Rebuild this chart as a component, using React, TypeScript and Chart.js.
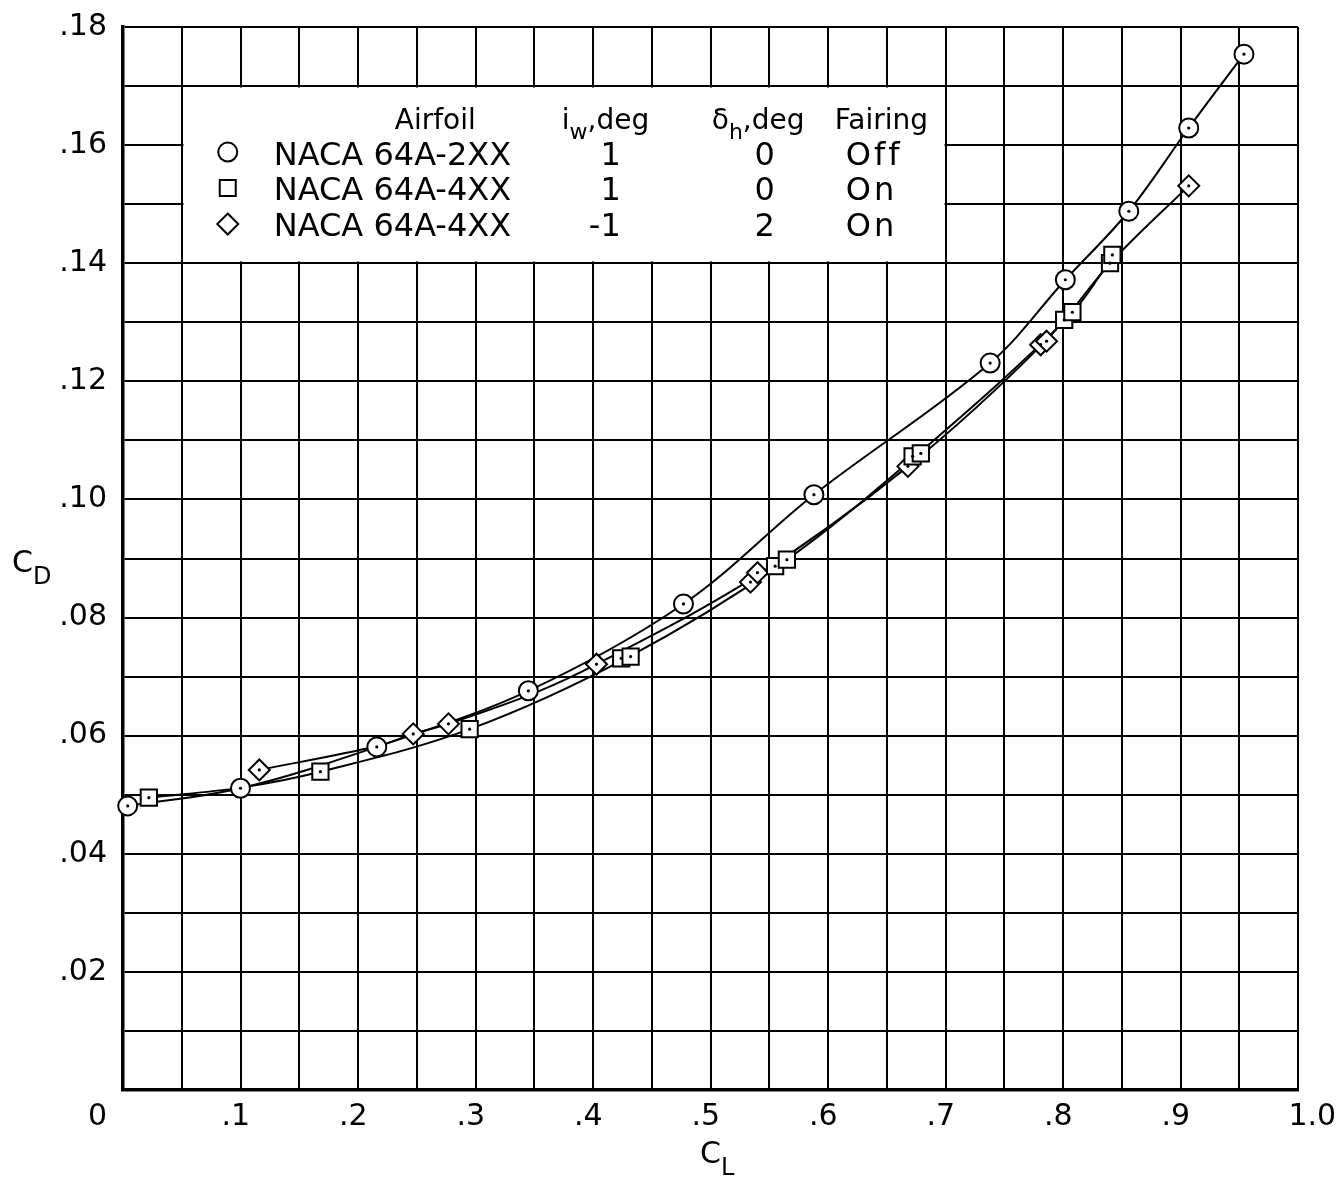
import React, { useEffect, useRef } from 'react';
import { Chart, registerables } from 'chart.js';

Chart.register(...registerables);

const FONT = '"DejaVu Sans", sans-serif';

// NACA 64A-2XX, i_w = 1, δh = 0, fairing off (circles)
const circleCL = [0.004, 0.1, 0.216, 0.345, 0.477, 0.588, 0.738, 0.802, 0.856, 0.907, 0.954];
const circleCD = [0.0481, 0.0511, 0.0581, 0.0676, 0.0823, 0.1008, 0.1231, 0.1372, 0.1488, 0.1629, 0.1754];

// NACA 64A-4XX, i_w = 1, δh = 0, fairing on (squares)
const squareCL = [0.022, 0.168, 0.295, 0.424, 0.432, 0.555, 0.565, 0.672, 0.679, 0.801, 0.808, 0.840, 0.842];
const squareCD = [0.0495, 0.0539, 0.0611, 0.0731, 0.0734, 0.0887, 0.0898, 0.1073, 0.1078, 0.1304, 0.1317, 0.1400, 0.1414];

// NACA 64A-4XX, i_w = -1, δh = 2, fairing on (diamonds)
const diamondCL = [0.116, 0.247, 0.277, 0.403, 0.534, 0.540, 0.668, 0.781, 0.786, 0.907];
const diamondCD = [0.0542, 0.0603, 0.0620, 0.0721, 0.0860, 0.0876, 0.1056, 0.1262, 0.1268, 0.1531];

// Faired curves as drawn through the square and diamond data
const squareFairCL = [0.022, 0.1, 0.168, 0.295, 0.428, 0.56, 0.676, 0.805, 0.841];
const squareFairCD = [0.0495, 0.0512, 0.0539, 0.0611, 0.0731, 0.0891, 0.1076, 0.131, 0.1407];
const diamondFairCL = [0.116, 0.216, 0.247, 0.277, 0.35, 0.403, 0.537, 0.668, 0.784, 0.842, 0.907];
const diamondFairCD = [0.0542, 0.0582, 0.0603, 0.0620, 0.0672, 0.0721, 0.0868, 0.1056, 0.1266, 0.1404, 0.1531];

// Axes
const xTickValues = [0, 0.1, 0.2, 0.3, 0.4, 0.5, 0.6, 0.7, 0.8, 0.9, 1.0];
const xTickLabels = ['0', '.1', '.2', '.3', '.4', '.5', '.6', '.7', '.8', '.9', '1.0'];
const yTickValues = [0.02, 0.04, 0.06, 0.08, 0.1, 0.12, 0.14, 0.16, 0.18];
const yTickLabels = ['.02', '.04', '.06', '.08', '.10', '.12', '.14', '.16', '.18'];

// Legend table
const legendMarkers = ['circle', 'square', 'diamond'];
const legendAirfoil = ['NACA 64A-2XX', 'NACA 64A-4XX', 'NACA 64A-4XX'];
const legendIw = ['1', '1', '-1'];
const legendDh = ['0', '0', '2'];
const legendFairing = ['Off', 'On', 'On'];

const pts = (xs: number[], ys: number[]) => xs.map((x, i) => ({ x, y: ys[i] }));

function gridValues(max: number, step: number) {
  const out: number[] = [];
  const n = Math.round(max / step);
  for (let i = 0; i <= n; i++) out.push(Math.round(i * step * 1000) / 1000);
  return out;
}

function drawSub(ctx: any, main: string, sub: string, rest: string, x: number, y: number, size: number, subSize: number, drop: number) {
  ctx.font = `${size}px ${FONT}`;
  ctx.fillText(main, x, y);
  let cx = x + ctx.measureText(main).width;
  ctx.font = `${subSize}px ${FONT}`;
  ctx.fillText(sub, cx, y + drop);
  cx += ctx.measureText(sub).width;
  if (rest) {
    ctx.font = `${size}px ${FONT}`;
    ctx.fillText(rest, cx, y);
  }
}

function drawMarker(ctx: any, kind: string, x: number, y: number) {
  ctx.beginPath();
  if (kind === 'circle') {
    ctx.arc(x, y, 9.5, 0, Math.PI * 2);
  } else if (kind === 'square') {
    ctx.rect(x - 8, y - 8, 16, 16);
  } else {
    ctx.moveTo(x, y - 10.5);
    ctx.lineTo(x + 10.5, y);
    ctx.lineTo(x, y + 10.5);
    ctx.lineTo(x - 10.5, y);
    ctx.closePath();
  }
  ctx.fillStyle = '#fff';
  ctx.fill();
  ctx.lineWidth = 2;
  ctx.strokeStyle = '#000';
  ctx.stroke();
}

const overlayPlugin = {
  id: 'overlay',
  beforeDatasetsDraw(chart: any) {
    const { ctx } = chart;
    const xs = chart.scales.x;
    const ys = chart.scales.y;
    const bl = xs.getPixelForValue(0.05);
    const br = xs.getPixelForValue(0.7);
    const bt = ys.getPixelForValue(0.17);
    const bb = ys.getPixelForValue(0.14);
    ctx.save();
    ctx.fillStyle = '#fff';
    const L = Math.round(bl) + 1.5;
    const R = Math.round(br) - 1.5;
    const T = Math.round(bt) + 1.5;
    const B = Math.round(bb) - 1.5;
    ctx.fillRect(L, T, R - L, B - T);

    ctx.fillStyle = '#000';
    ctx.textBaseline = 'alphabetic';
    ctx.textAlign = 'left';
    const hy = bt + 43;
    ctx.font = `28px ${FONT}`;
    ctx.fillText('Airfoil', bl + 213, hy);
    drawSub(ctx, 'i', 'w', ',deg', bl + 380, hy, 28, 22, 10);
    drawSub(ctx, 'δ', 'h', ',deg', bl + 530, hy, 28, 22, 10);
    ctx.font = `28px ${FONT}`;
    ctx.fillText('Fairing', bl + 653, hy);

    const rowBase = [79, 114, 150];
    const rowMark = [66, 102, 138];
    for (let i = 0; i < legendAirfoil.length; i++) {
      drawMarker(ctx, legendMarkers[i], bl + 46, bt + rowMark[i]);
      ctx.fillStyle = '#000';
      ctx.font = `32px ${FONT}`;
      const by = bt + rowBase[i];
      ctx.textAlign = 'left';
      ctx.fillText(legendAirfoil[i], bl + 92, by);
      ctx.textAlign = 'right';
      ctx.fillText(legendIw[i], bl + 439, by);
      ctx.textAlign = 'center';
      ctx.fillText(legendDh[i], bl + 583, by);
      ctx.textAlign = 'left';
      (ctx as any).letterSpacing = '3px';
      ctx.fillText(legendFairing[i], bl + 664, by);
      (ctx as any).letterSpacing = '0px';
    }
    ctx.restore();
  },
  afterDraw(chart: any) {
    const { ctx, chartArea } = chart;
    const xs = chart.scales.x;
    ctx.save();
    ctx.fillStyle = '#000';
    ctx.textBaseline = 'alphabetic';
    ctx.font = `30px ${FONT}`;
    const baseY = chartArea.bottom + 35;
    for (let i = 0; i < xTickValues.length; i++) {
      const lab = xTickLabels[i];
      const px = xs.getPixelForValue(xTickValues[i]);
      if (xTickValues[i] === 0) {
        ctx.textAlign = 'right';
        ctx.fillText(lab, chartArea.left - 16, baseY);
        continue;
      }
      const di = lab.search(/[0-9]/);
      const prefix = lab.slice(0, di);
      const dw = ctx.measureText(lab[di]).width;
      const pw = ctx.measureText(prefix).width;
      ctx.textAlign = 'left';
      ctx.fillText(lab, px - pw - dw / 2, baseY);
    }
    ctx.textAlign = 'left';
    // axis titles
    drawSub(ctx, 'C', 'D', '', 12, 572, 30, 24, 12);
    drawSub(ctx, 'C', 'L', '', 700, 1163, 30, 24, 12);
    ctx.restore();
  },
};

export default function App() {
  const ref = useRef<HTMLCanvasElement>(null);
  useEffect(() => {
    const canvas = ref.current;
    if (!canvas) return;
    const lineDs = (data: any[]) => ({
      data,
      showLine: true,
      borderColor: '#000',
      borderWidth: 2,
      pointRadius: 0,
      fill: false,
      tension: 0.35,
      order: 3,
    });
    const markerDs = (data: any[], style: string, radius: number) => ({
      data,
      showLine: false,
      pointStyle: style,
      pointRadius: radius,
      pointBackgroundColor: '#fff',
      pointBorderColor: '#000',
      pointBorderWidth: 2,
      clip: false,
      order: 2,
    });
    const dotDs = (data: any[]) => ({
      data,
      showLine: false,
      pointStyle: 'circle',
      pointRadius: 1.6,
      pointBackgroundColor: '#000',
      pointBorderWidth: 0,
      clip: false,
      order: 1,
    });
    const circles = pts(circleCL, circleCD);
    const squares = pts(squareCL, squareCD);
    const diamonds = pts(diamondCL, diamondCD);
    const xGrid = gridValues(1.0, 0.05);
    const yGrid = gridValues(0.18, 0.01);
    const chart = new Chart(canvas, {
      type: 'scatter',
      data: {
        datasets: [
          lineDs(circles),
          lineDs(pts(squareFairCL, squareFairCD)),
          lineDs(pts(diamondFairCL, diamondFairCD)),
          markerDs(circles, 'circle', 9.5),
          markerDs(squares, 'rect', 11.5),
          markerDs(diamonds, 'rectRot', 10.5),
          dotDs(circles),
          dotDs(squares),
          dotDs(diamonds),
        ] as any,
      },
      options: {
        responsive: false,
        animation: false,
        devicePixelRatio: 1,
        layout: { padding: { left: 0, right: 43, top: 27, bottom: 0 } },
        plugins: { legend: { display: false }, tooltip: { enabled: false } },
        events: [],
        scales: {
          x: {
            type: 'linear',
            min: 0,
            max: 1,
            afterBuildTicks: (s: any) => { s.ticks = xGrid.map((v) => ({ value: v })); },
            afterFit: (s: any) => {
              s.height = 88;
              s.paddingLeft = 0;
              s.paddingRight = 0;
              s.paddingTop = 0;
              s.paddingBottom = 0;
            },
            ticks: { display: false, autoSkip: false },
            grid: { color: '#000', lineWidth: 2, drawTicks: false },
            border: { display: true, color: '#000', width: 3.5 },
            title: { display: false },
          },
          y: {
            type: 'linear',
            min: 0,
            max: 0.18,
            afterBuildTicks: (s: any) => { s.ticks = yGrid.map((v) => ({ value: v })); },
            afterFit: (s: any) => {
              s.width = 123;
              s.paddingTop = 0;
              s.paddingBottom = 0;
              s.paddingLeft = 0;
              s.paddingRight = 0;
            },
            ticks: {
              autoSkip: false,
              padding: 16,
              color: '#000',
              font: { family: FONT, size: 30 },
              callback: (v: any) => {
                const i = yTickValues.findIndex((t) => Math.abs(t - v) < 1e-6);
                return i >= 0 ? yTickLabels[i] : '';
              },
            },
            grid: { color: '#000', lineWidth: 2, drawTicks: false },
            border: { display: true, color: '#000', width: 3.5 },
            title: { display: false },
          },
        },
      } as any,
      plugins: [overlayPlugin],
    });
    return () => chart.destroy();
  }, []);
  return (
    <div style={{ position: 'absolute', left: 0, top: 0, width: 1341, height: 1178, background: '#fff' }}>
      <canvas ref={ref} width={1341} height={1178} style={{ display: 'block', width: 1341, height: 1178 }} />
    </div>
  );
}
